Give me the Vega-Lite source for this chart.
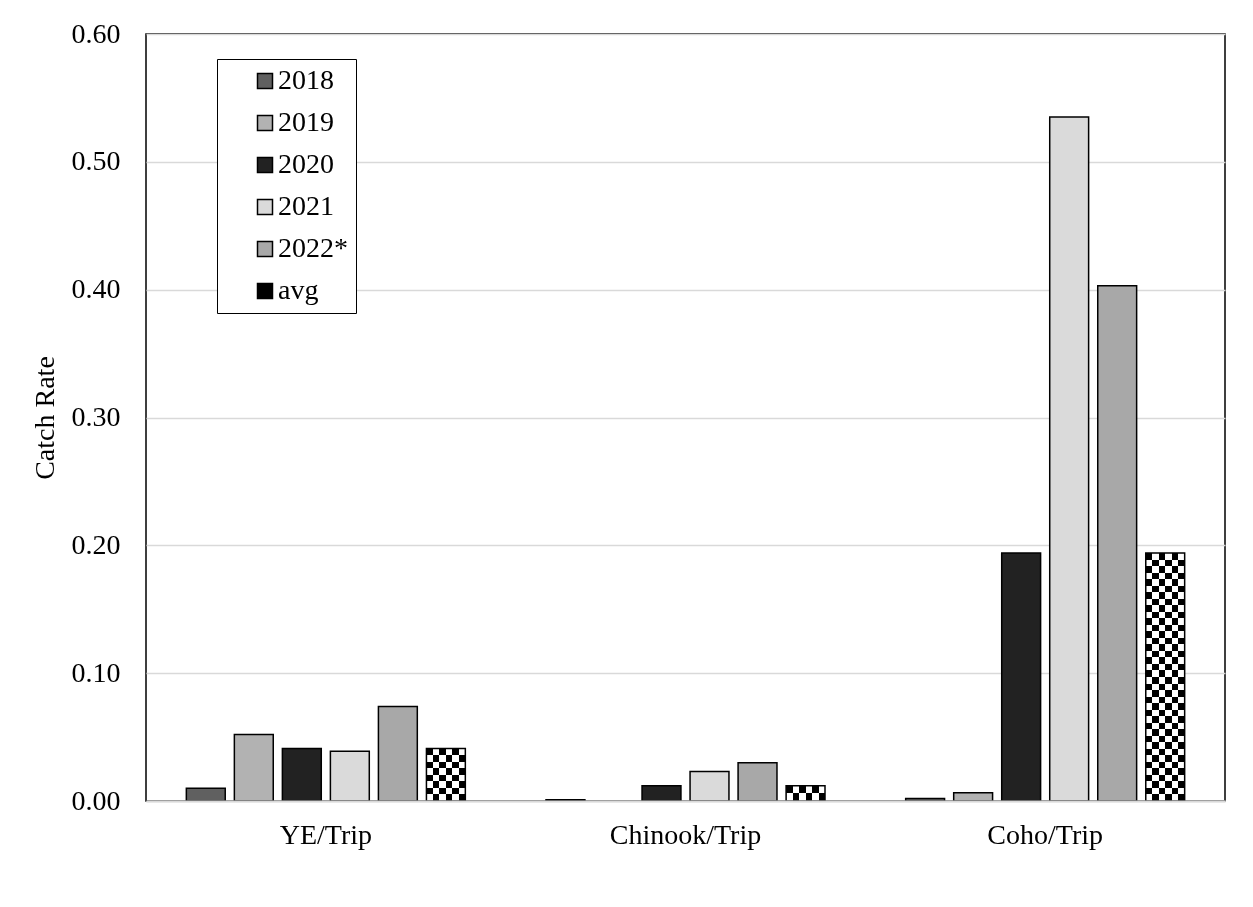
{
  "$schema": "https://vega.github.io/schema/vega-lite/v6.json",
  "autosize": "none",
  "width": 1079,
  "height": 767,
  "padding": {"left": 146, "top": 34, "right": 28, "bottom": 106},
  "background": "white",
  "config": {
    "font": "Liberation Serif",
    "view": {"stroke": "black", "strokeWidth": 1.5},
    "axis": {"labelFont": "Liberation Serif", "titleFont": "Liberation Serif", "labelColor": "black", "titleColor": "black"},
    "legend": {"labelFont": "Liberation Serif"}
  },
  "data": {
    "values": [
      {"category": "YE/Trip", "series": "2018", "rate": 0.010},
      {"category": "YE/Trip", "series": "2019", "rate": 0.052},
      {"category": "YE/Trip", "series": "2020", "rate": 0.041},
      {"category": "YE/Trip", "series": "2021", "rate": 0.039},
      {"category": "YE/Trip", "series": "2022*", "rate": 0.074},
      {"category": "YE/Trip", "series": "avg", "rate": 0.041},
      {"category": "Chinook/Trip", "series": "2018", "rate": 0.001},
      {"category": "Chinook/Trip", "series": "2019", "rate": 0.0},
      {"category": "Chinook/Trip", "series": "2020", "rate": 0.012},
      {"category": "Chinook/Trip", "series": "2021", "rate": 0.023},
      {"category": "Chinook/Trip", "series": "2022*", "rate": 0.030},
      {"category": "Chinook/Trip", "series": "avg", "rate": 0.012},
      {"category": "Coho/Trip", "series": "2018", "rate": 0.002},
      {"category": "Coho/Trip", "series": "2019", "rate": 0.0065},
      {"category": "Coho/Trip", "series": "2020", "rate": 0.194},
      {"category": "Coho/Trip", "series": "2021", "rate": 0.535},
      {"category": "Coho/Trip", "series": "2022*", "rate": 0.403},
      {"category": "Coho/Trip", "series": "avg", "rate": 0.194}
    ]
  },
  "encoding": {
    "x": {
      "field": "category", "type": "nominal", "sort": ["YE/Trip", "Chinook/Trip", "Coho/Trip"],
      "scale": {"paddingInner": 0, "paddingOuter": 0},
      "axis": {"title": null, "labelAngle": 0, "labelFontSize": 28, "labelPadding": 20, "ticks": false, "domainColor": "#d9d9d9", "domainWidth": 2, "zindex": 1}
    },
    "xOffset": {
      "field": "series", "type": "nominal",
      "scale": {"domain": ["2018", "2019", "2020", "2021", "2022*", "avg"], "paddingInner": 0.19, "paddingOuter": 0.84}
    },
    "y": {
      "field": "rate", "type": "quantitative",
      "scale": {"domain": [0, 0.6], "nice": false},
      "axis": {"title": "Catch Rate", "titleFontSize": 28, "titleFontWeight": "normal", "titlePadding": 12, "labelFontSize": 28, "labelPadding": 26, "ticks": false, "domain": false, "format": ".2f", "values": [0, 0.1, 0.2, 0.3, 0.4, 0.5, 0.6], "gridColor": "#d9d9d9", "gridWidth": 1.5}
    }
  },
  "layer": [
    {
      "transform": [{"filter": "datum.series !== 'avg' && datum.rate > 0"}],
      "mark": {"type": "bar", "stroke": "black", "strokeWidth": 1.5},
      "encoding": {
        "color": {
          "field": "series", "type": "nominal",
          "scale": {"domain": ["2018", "2019", "2020", "2021", "2022*", "avg"], "range": ["#606060", "#b2b2b2", "#222222", "#dadada", "#a8a8a8", "#000000"]},
          "legend": {
            "title": null, "orient": "none", "legendX": 71, "legendY": 25,
            "padding": 8, "strokeColor": "black", "fillColor": "white",
            "symbolType": "square", "symbolSize": 225, "symbolStrokeColor": "black", "symbolStrokeWidth": 1.5,
            "symbolOffset": 26, "labelOffset": -1, "labelFontSize": 28, "labelColor": "black", "rowPadding": 14
          }
        }
      }
    },
    {
      "transform": [{"filter": "datum.series === 'avg'"}],
      "mark": {
        "type": "bar", "strokeWidth": 0,
        "fill": {"gradient": "linear", "x1": 0, "y1": 0, "x2": 1, "y2": 0, "stops": [
          {"offset": 0, "color": "#000"}, {"offset": 0.166667, "color": "#000"},
          {"offset": 0.166667, "color": "#fff"}, {"offset": 0.333333, "color": "#fff"},
          {"offset": 0.333333, "color": "#000"}, {"offset": 0.5, "color": "#000"},
          {"offset": 0.5, "color": "#fff"}, {"offset": 0.666667, "color": "#fff"},
          {"offset": 0.666667, "color": "#000"}, {"offset": 0.833333, "color": "#000"},
          {"offset": 0.833333, "color": "#fff"}, {"offset": 1, "color": "#fff"}
        ]}
      }
    },
    {
      "transform": [{"filter": "datum.series === 'avg' && datum.category === 'YE/Trip'"}],
      "mark": {
        "type": "bar", "strokeWidth": 0, "blend": "difference",
        "fill": {"gradient": "linear", "x1": 0, "y1": 0, "x2": 0, "y2": 1, "stops": [
          {"offset": 0, "color": "#000"}, {"offset": 0.125, "color": "#000"},
          {"offset": 0.125, "color": "#fff"}, {"offset": 0.25, "color": "#fff"},
          {"offset": 0.25, "color": "#000"}, {"offset": 0.375, "color": "#000"},
          {"offset": 0.375, "color": "#fff"}, {"offset": 0.5, "color": "#fff"},
          {"offset": 0.5, "color": "#000"}, {"offset": 0.625, "color": "#000"},
          {"offset": 0.625, "color": "#fff"}, {"offset": 0.75, "color": "#fff"},
          {"offset": 0.75, "color": "#000"}, {"offset": 0.875, "color": "#000"},
          {"offset": 0.875, "color": "#fff"}, {"offset": 1, "color": "#fff"}
        ]}
      }
    },
    {
      "transform": [{"filter": "datum.series === 'avg' && datum.category === 'Chinook/Trip'"}],
      "mark": {
        "type": "bar", "strokeWidth": 0, "blend": "difference",
        "fill": {"gradient": "linear", "x1": 0, "y1": 0, "x2": 0, "y2": 1, "stops": [
          {"offset": 0, "color": "#000"}, {"offset": 0.5, "color": "#000"},
          {"offset": 0.5, "color": "#fff"}, {"offset": 1, "color": "#fff"}
        ]}
      }
    },
    {
      "transform": [{"filter": "datum.series === 'avg' && datum.category === 'Coho/Trip'"}],
      "mark": {
        "type": "bar", "strokeWidth": 0, "blend": "difference",
        "fill": {"gradient": "linear", "x1": 0, "y1": 0, "x2": 0, "y2": 1, "stops": [
          {"offset": 0, "color": "#000"}, {"offset": 0.026316, "color": "#000"},
          {"offset": 0.026316, "color": "#fff"}, {"offset": 0.052632, "color": "#fff"},
          {"offset": 0.052632, "color": "#000"}, {"offset": 0.078947, "color": "#000"},
          {"offset": 0.078947, "color": "#fff"}, {"offset": 0.105263, "color": "#fff"},
          {"offset": 0.105263, "color": "#000"}, {"offset": 0.131579, "color": "#000"},
          {"offset": 0.131579, "color": "#fff"}, {"offset": 0.157895, "color": "#fff"},
          {"offset": 0.157895, "color": "#000"}, {"offset": 0.184211, "color": "#000"},
          {"offset": 0.184211, "color": "#fff"}, {"offset": 0.210526, "color": "#fff"},
          {"offset": 0.210526, "color": "#000"}, {"offset": 0.236842, "color": "#000"},
          {"offset": 0.236842, "color": "#fff"}, {"offset": 0.263158, "color": "#fff"},
          {"offset": 0.263158, "color": "#000"}, {"offset": 0.289474, "color": "#000"},
          {"offset": 0.289474, "color": "#fff"}, {"offset": 0.315789, "color": "#fff"},
          {"offset": 0.315789, "color": "#000"}, {"offset": 0.342105, "color": "#000"},
          {"offset": 0.342105, "color": "#fff"}, {"offset": 0.368421, "color": "#fff"},
          {"offset": 0.368421, "color": "#000"}, {"offset": 0.394737, "color": "#000"},
          {"offset": 0.394737, "color": "#fff"}, {"offset": 0.421053, "color": "#fff"},
          {"offset": 0.421053, "color": "#000"}, {"offset": 0.447368, "color": "#000"},
          {"offset": 0.447368, "color": "#fff"}, {"offset": 0.473684, "color": "#fff"},
          {"offset": 0.473684, "color": "#000"}, {"offset": 0.5, "color": "#000"},
          {"offset": 0.5, "color": "#fff"}, {"offset": 0.526316, "color": "#fff"},
          {"offset": 0.526316, "color": "#000"}, {"offset": 0.552632, "color": "#000"},
          {"offset": 0.552632, "color": "#fff"}, {"offset": 0.578947, "color": "#fff"},
          {"offset": 0.578947, "color": "#000"}, {"offset": 0.605263, "color": "#000"},
          {"offset": 0.605263, "color": "#fff"}, {"offset": 0.631579, "color": "#fff"},
          {"offset": 0.631579, "color": "#000"}, {"offset": 0.657895, "color": "#000"},
          {"offset": 0.657895, "color": "#fff"}, {"offset": 0.684211, "color": "#fff"},
          {"offset": 0.684211, "color": "#000"}, {"offset": 0.710526, "color": "#000"},
          {"offset": 0.710526, "color": "#fff"}, {"offset": 0.736842, "color": "#fff"},
          {"offset": 0.736842, "color": "#000"}, {"offset": 0.763158, "color": "#000"},
          {"offset": 0.763158, "color": "#fff"}, {"offset": 0.789474, "color": "#fff"},
          {"offset": 0.789474, "color": "#000"}, {"offset": 0.815789, "color": "#000"},
          {"offset": 0.815789, "color": "#fff"}, {"offset": 0.842105, "color": "#fff"},
          {"offset": 0.842105, "color": "#000"}, {"offset": 0.868421, "color": "#000"},
          {"offset": 0.868421, "color": "#fff"}, {"offset": 0.894737, "color": "#fff"},
          {"offset": 0.894737, "color": "#000"}, {"offset": 0.921053, "color": "#000"},
          {"offset": 0.921053, "color": "#fff"}, {"offset": 0.947368, "color": "#fff"},
          {"offset": 0.947368, "color": "#000"}, {"offset": 0.973684, "color": "#000"},
          {"offset": 0.973684, "color": "#fff"}, {"offset": 1, "color": "#fff"}
        ]}
      }
    },
    {
      "transform": [{"filter": "datum.series === 'avg'"}],
      "mark": {"type": "bar", "fill": "transparent", "fillOpacity": 0, "stroke": "black", "strokeWidth": 1.5}
    }
  ]
}
